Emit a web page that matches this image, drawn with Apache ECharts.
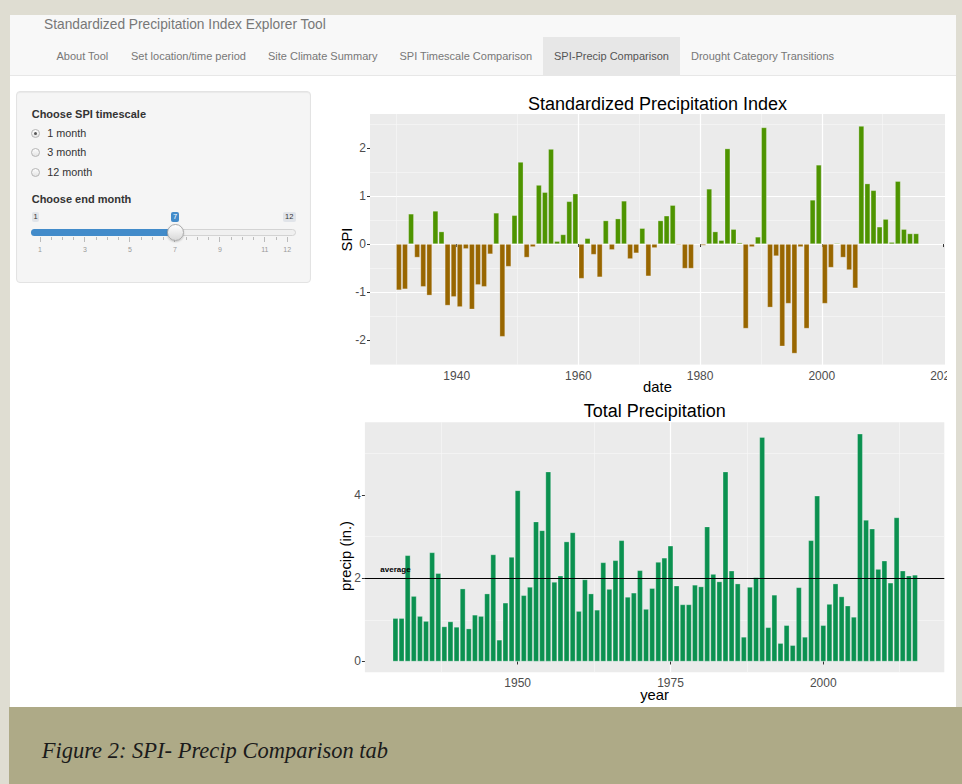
<!DOCTYPE html>
<html>
<head>
<meta charset="utf-8">
<title>SPI-Precip Comparison</title>
<script src="https://cdn.jsdelivr.net/npm/echarts@6.0.0/dist/echarts.min.js"></script>
<style>
  html, body { margin:0; padding:0; }
  body { width:962px; height:784px; position:relative; overflow:hidden; background:#dfddd2;
         font-family:"Liberation Sans", Arial, Helvetica, sans-serif; }
  .abs { position:absolute; white-space:nowrap; }
  #page { left:10px; top:15px; width:946px; height:692px; background:#fff; }
  #navbar { left:10px; top:15px; width:946px; height:61px; background:#f8f8f8; border-bottom:1px solid #e7e7e7; box-sizing:border-box; }
  #brand { left:44px; top:17.6px; font-size:13.75px; line-height:13.75px; color:#777; }
  .tab { top:50.5px; font-size:11px; line-height:11px; color:#777; }
  #activeTab { left:543px; top:37px; width:137px; height:38px; background:#e7e7e7; }
  #well { left:16px; top:91px; width:295px; height:192px; background:#f5f5f5; border:1px solid #e3e3e3;
          border-radius:4px; box-sizing:border-box; box-shadow: inset 0 1px 1px rgba(0,0,0,0.05); }
  .lbl { left:31.7px; font-size:11px; line-height:11px; font-weight:bold; color:#333; }
  .radio { width:9px; height:9px; border-radius:50%; border:1px solid #b5b5b5; box-sizing:border-box;
           background:linear-gradient(#fdfdfd,#e4e4e4); }
  .dot { width:3.5px; height:3.5px; border-radius:50%; background:#555; left:1.75px; top:1.75px; }
  .rtext { left:47.3px; font-size:10.8px; line-height:10.8px; color:#333; }
  .sbox { top:211.7px; height:10px; font-size:7.5px; line-height:10px; text-align:center; border-radius:2px; }
  #track { left:30.7px; top:229px; width:265.3px; height:6.7px; background:#f0f0f0; border:1px solid #d3d3d3;
           border-radius:4px; box-sizing:border-box; }
  #fill { left:30.7px; top:229px; width:144.3px; height:6.7px; background:#428bca; border-radius:4px 0 0 4px; }
  #handle { left:166.5px; top:223.8px; width:17px; height:17px; border-radius:50%; box-sizing:border-box;
            border:1px solid #aaa; background:linear-gradient(#ffffff,#d9d9d9); box-shadow:0 1px 2px rgba(0,0,0,0.2); }
  .tk { width:1px; background:#bbb; top:237px; }
  .tkl { top:245.5px; font-size:7px; line-height:7px; color:#999; transform:translateX(-50%); }
  #caption { left:9px; top:707px; width:953px; height:77px; background:#aeaa87; }
  #capText { left:41.7px; top:740px; font-family:"Liberation Serif", "DejaVu Serif", serif; font-style:italic;
             font-size:22.5px; line-height:22.5px; color:#1b1b1b; }
  #chart { left:320px; top:80px; width:627px; height:627px; }
</style>
</head>
<body>
<div id="page" class="abs"></div>
<div id="navbar" class="abs"></div>
<div id="brand" class="abs">Standardized Precipitation Index Explorer Tool</div>
<div id="activeTab" class="abs"></div>
<div class="abs tab" style="left:56.5px">About Tool</div>
<div class="abs tab" style="left:131px">Set location/time period</div>
<div class="abs tab" style="left:268px">Site Climate Summary</div>
<div class="abs tab" style="left:399.5px">SPI Timescale Comparison</div>
<div class="abs tab" style="left:554px;color:#555">SPI-Precip Comparison</div>
<div class="abs tab" style="left:691px">Drought Category Transitions</div>

<div id="well" class="abs"></div>
<div class="abs lbl" style="top:108.5px">Choose SPI timescale</div>
<div class="abs radio" style="left:30.8px;top:129.2px"><div class="abs dot"></div></div>
<div class="abs rtext" style="top:128.3px">1 month</div>
<div class="abs radio" style="left:30.8px;top:148.2px"></div>
<div class="abs rtext" style="top:147.3px">3 month</div>
<div class="abs radio" style="left:30.8px;top:167.5px"></div>
<div class="abs rtext" style="top:166.6px">12 month</div>
<div class="abs lbl" style="top:193.5px">Choose end month</div>
<div class="abs sbox" style="left:31.7px;width:7.6px;background:#e1e4e9;color:#333">1</div>
<div class="abs sbox" style="left:171px;width:8.3px;background:#428bca;color:#fff">7</div>
<div class="abs sbox" style="left:282.7px;width:13px;background:#e1e4e9;color:#333">12</div>
<div id="track" class="abs"></div>
<div id="fill" class="abs"></div>
<div id="sliderGrid"></div>
<div id="handle" class="abs"></div>

<div id="caption" class="abs"></div>
<div id="capText" class="abs">Figure 2: SPI- Precip Comparison tab</div>

<div id="chart" class="abs"></div>

<script>
// ---------------- data ----------------
const years = [1930,1931,1932,1933,1934,1935,1936,1937,1938,1939,
               1940,1941,1942,1943,1944,1945,1946,1947,1948,1949,
               1950,1951,1952,1953,1954,1955,1956,1957,1958,1959,
               1960,1961,1962,1963,1964,1965,1966,1967,1968,1969,
               1970,1971,1972,1973,1974,1975,1976,1977,1978,1979,
               1980,1981,1982,1983,1984,1985,1986,1987,1988,1989,
               1990,1991,1992,1993,1994,1995,1996,1997,1998,1999,
               2000,2001,2002,2003,2004,2005,2006,2007,2008,2009,
               2010,2011,2012,2013,2014,2015];

const spiValues = [-0.96,-0.94,0.63,-0.28,-0.89,-1.07,0.69,0.26,-1.28,-1.10,
                   -1.31,-0.10,-1.36,-0.85,-0.89,-0.21,0.65,-1.93,-0.47,0.60,
                   1.71,-0.28,-0.06,1.23,1.08,1.98,0.06,0.20,0.89,1.05,
                   -0.72,0.12,-0.22,-0.69,0.49,-0.12,0.53,0.90,-0.31,-0.19,
                   0.33,-0.67,-0.08,0.49,0.59,0.81,-0.02,-0.51,-0.51,-0.01,
                   -0.03,1.15,0.26,0.08,1.99,0.31,0.03,-1.76,-0.06,0.15,
                   2.43,-1.32,-0.25,-2.13,-1.24,-2.28,-0.06,-1.76,0.92,1.65,
                   -1.24,-0.49,0.02,-0.28,-0.54,-0.92,2.46,1.26,1.12,0.36,
                   0.52,0.04,1.31,0.31,0.22,0.22];

const precipValues = [1.04,1.04,2.55,1.57,1.09,0.97,2.62,2.12,0.84,0.96,
                      0.83,1.75,0.79,1.12,1.09,1.63,2.57,0.52,1.41,2.51,
                      4.11,1.59,1.79,3.36,3.15,4.56,1.91,2.06,2.88,3.10,
                      1.21,1.97,1.63,1.24,2.38,1.74,2.43,2.91,1.55,1.65,
                      2.19,1.26,1.76,2.39,2.49,2.78,1.82,1.37,1.37,1.84,
                      1.80,3.24,2.10,1.92,4.56,2.18,1.87,0.59,1.79,2.02,
                      5.39,0.82,1.60,0.44,0.87,0.39,1.78,0.59,2.91,3.98,
                      0.87,1.38,1.87,1.56,1.34,1.07,5.47,3.40,3.19,2.22,
                      2.42,1.89,3.46,2.18,2.06,2.08];

const endMonth = 7;
const spiXTicks = [1940, 1960, 1980, 2000, 2020];
const spiYTicks = [-2, -1, 0, 1, 2];
const precipXTicks = [1950, 1975, 2000];
const precipYTicks = [0, 2, 4];
const averageLabel = 'average';
const averageLabelYear = 1930;
const sliderMonths = [1, 3, 5, 7, 9, 11, 12];

// ---------------- slider grid (UI widget) ----------------
(function () {
  const host = document.getElementById('sliderGrid');
  const x0 = 40, step = 22.48;
  const px = m => x0 + (m - 1) * step;
  let html = '';
  sliderMonths.forEach((m, i) => {
    html += '<div class="abs tk" style="left:' + (px(m) - 0.5) + 'px;height:5px"></div>';
    html += '<div class="abs tkl" style="left:' + px(m) + 'px">' + m + '</div>';
    if (i < sliderMonths.length - 1) {
      const n = sliderMonths[i + 1];
      const sub = (n - m) === 2 ? 4 : 2;
      for (let k = 1; k < sub; k++) {
        const mm = m + (n - m) * k / sub;
        html += '<div class="abs tk" style="left:' + (px(mm) - 0.5) + 'px;height:3px"></div>';
      }
    }
  });
  host.innerHTML = html;
})();

// ---------------- chart ----------------
const GREEN_SPI = '#4e9400';
const BROWN_SPI = '#986600';
const GREEN_PRECIP = '#0b9150';
const FONT = '"Liberation Sans", Arial, Helvetica, sans-serif';

const spiData = years.map((y, i) => [y + (endMonth - 1) / 12, spiValues[i]]);
const precipData = years.map((y, i) => [y, precipValues[i]]);
const precipAverage = precipValues.reduce((a, b) => a + b, 0) / precipValues.length;

function axisCommon(ticks, labelMargin) {
  return {
    type: 'value',
    axisLine: { show: false },
    axisTick: { show: true, length: 3, customValues: ticks, lineStyle: { color: '#333', width: 1 } },
    axisLabel: { customValues: ticks, formatter: v => String(v), color: '#4d4d4d', fontSize: 12,
                 fontFamily: FONT, margin: labelMargin },
    splitLine: { show: true, showMinLine: false, showMaxLine: false, lineStyle: { color: '#ffffff', width: 1.2 } },
    minorTick: { show: false, splitNumber: 2 },
    minorSplitLine: { show: true, lineStyle: { color: '#f9f9f9', width: 0.6 } }
  };
}

const chart = echarts.init(document.getElementById('chart'), null, { renderer: 'svg' });

const option = {
  animation: false,
  grid: [
    { left: 50, top: 34, width: 575, height: 251, show: true, backgroundColor: '#ebebeb', borderWidth: 0,
      containLabel: false, outerBoundsMode: 'none' },
    { left: 44.9, top: 342.3, width: 579.4, height: 250, show: true, backgroundColor: '#ebebeb', borderWidth: 0,
      containLabel: false, outerBoundsMode: 'none' }
  ],
  xAxis: [
    Object.assign(axisCommon(spiXTicks, 5), { gridIndex: 0, min: 1925.75, max: 2020.25 }),
    Object.assign(axisCommon(precipXTicks, 5), { gridIndex: 1, min: 1925, max: 2019.8, interval: 25 })
  ],
  yAxis: [
    Object.assign(axisCommon(spiYTicks, 4), { gridIndex: 0, min: -2.52, max: 2.71, splitNumber: 5 }),
    Object.assign(axisCommon(precipYTicks, 4), { gridIndex: 1, min: -0.26, max: 5.745, splitNumber: 3 })
  ],
  series: [
    {
      type: 'bar', name: 'SPI', xAxisIndex: 0, yAxisIndex: 0, data: spiData, barWidth: 5.5,
      itemStyle: {
        color: p => (p.value[1] >= 0 ? GREEN_SPI : BROWN_SPI),
        borderColor: 'rgba(255,255,255,0.45)', borderWidth: 0.6
      },
      emphasis: { disabled: true }
    },
    {
      type: 'bar', name: 'precip', xAxisIndex: 1, yAxisIndex: 1, data: precipData, barWidth: 5.5,
      itemStyle: { color: GREEN_PRECIP, borderColor: 'rgba(255,255,255,0.45)', borderWidth: 0.6 },
      emphasis: { disabled: true },
      markLine: {
        silent: true, symbol: 'none', animation: false,
        label: { show: false },
        lineStyle: { color: '#000', width: 1, type: 'solid' },
        data: [{ yAxis: precipAverage }]
      },
      markPoint: {
        silent: true, animation: false, symbol: 'rect', symbolSize: 1,
        itemStyle: { color: 'rgba(0,0,0,0)' },
        label: { show: true, position: 'inside', formatter: averageLabel, color: '#000', fontSize: 8,
                 fontWeight: 'bold', fontFamily: FONT },
        data: [{ coord: [averageLabelYear, precipAverage + 0.2] }]
      }
    }
  ],
  graphic: [
    { type: 'text', x: 337.5, y: 23.7, silent: true,
      style: { text: 'Standardized Precipitation Index', font: '18px ' + FONT, fill: '#000', align: 'center', verticalAlign: 'middle' } },
    { type: 'text', x: 334.7, y: 331.4, silent: true,
      style: { text: 'Total Precipitation', font: '18px ' + FONT, fill: '#000', align: 'center', verticalAlign: 'middle' } },
    { type: 'text', x: 337.5, y: 307.1, silent: true,
      style: { text: 'date', font: '14.8px ' + FONT, fill: '#000', align: 'center', verticalAlign: 'middle' } },
    { type: 'text', x: 334.6, y: 615.4, silent: true,
      style: { text: 'year', font: '14.8px ' + FONT, fill: '#000', align: 'center', verticalAlign: 'middle' } },
    { type: 'text', x: 27.1, y: 159.5, rotation: Math.PI / 2, silent: true,
      style: { text: 'SPI', font: '14.8px ' + FONT, fill: '#000', align: 'center', verticalAlign: 'middle' } },
    { type: 'text', x: 25.9, y: 476, rotation: Math.PI / 2, silent: true,
      style: { text: 'precip (in.)', font: '14.8px ' + FONT, fill: '#000', align: 'center', verticalAlign: 'middle' } }
  ]
};

chart.setOption(option);
</script>
</body>
</html>
